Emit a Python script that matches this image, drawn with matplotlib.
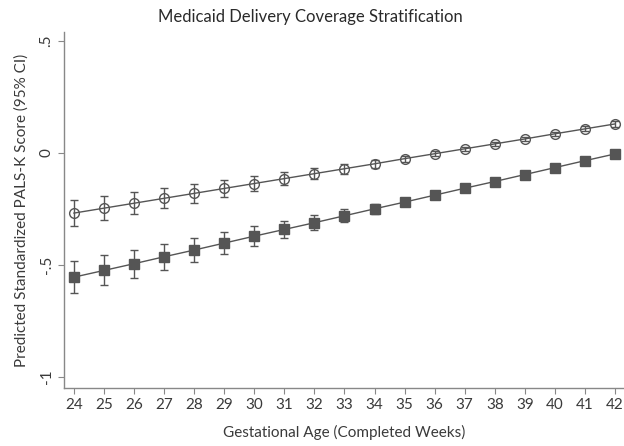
import matplotlib
matplotlib.use("Agg")
import matplotlib.pyplot as plt

weeks = [24, 25, 26, 27, 28, 29, 30, 31, 32, 33, 34, 35, 36, 37, 38, 39, 40, 41, 42]

# Open circles (upper series)
circ_mean = [-0.268, -0.246, -0.224, -0.202, -0.180, -0.158, -0.136, -0.114, -0.092,
             -0.070, -0.048, -0.025, -0.003, 0.019, 0.041, 0.063, 0.086, 0.108, 0.130]
circ_err = [0.058, 0.053, 0.050, 0.045, 0.042, 0.038, 0.034, 0.030, 0.026,
            0.022, 0.018, 0.014, 0.010, 0.008, 0.008, 0.009, 0.010, 0.011, 0.012]

# Filled squares (lower series)
sq_mean = [-0.554, -0.524, -0.494, -0.463, -0.433, -0.402, -0.371, -0.341, -0.311,
           -0.280, -0.249, -0.219, -0.188, -0.157, -0.127, -0.096, -0.065, -0.034, -0.004]
sq_err = [0.071, 0.067, 0.062, 0.059, 0.054, 0.048, 0.044, 0.038, 0.034,
          0.030, 0.022, 0.016, 0.012, 0.010, 0.009, 0.009, 0.010, 0.011, 0.012]

yticks = [-1, -0.5, 0, 0.5]
ytick_labels = ["-1", "-.5", "0", ".5"]

plt.rcParams['font.family'] = ['Lato', 'DejaVu Sans']

fig = plt.figure(figsize=(6.24, 4.46), dpi=100)
ax = fig.add_axes([0.1026, 0.13, 0.8974, 0.798])

col = '#555555'
ax.errorbar(weeks, circ_mean, yerr=circ_err, fmt='-o', color=col, mfc='none', mec=col,
            ms=7, mew=1.0, lw=1.0, ecolor=col, elinewidth=1.0, capsize=3, capthick=1.0, zorder=3)
ax.errorbar(weeks, sq_mean, yerr=sq_err, fmt='-s', color=col, mfc=col, mec=col,
            ms=7, mew=1.0, lw=1.0, ecolor=col, elinewidth=1.0, capsize=3, capthick=1.0, zorder=3)

ax.set_xlim(23.67, 42.3)
ax.set_ylim(-1.049, 0.54)
ax.set_xticks(weeks)
ax.set_xticklabels([str(w) for w in weeks])
ax.set_yticks(yticks)
ax.set_yticklabels(ytick_labels, rotation=90, va='center')

for s in ['top', 'right']:
    ax.spines[s].set_visible(False)
for s in ['left', 'bottom']:
    ax.spines[s].set_color('#888888')
    ax.spines[s].set_linewidth(1.0)
ax.tick_params(axis='both', direction='out', length=4, color='#888888', labelcolor='#3a3a3a',
               labelsize=11)

fig.text(0.497, 0.962, "Medicaid Delivery Coverage Stratification", fontsize=12,
         color='#2a2a2a', ha='center', va='center')
ax.set_xlabel("Gestational Age (Completed Weeks)", fontsize=11, color='#3a3a3a', labelpad=9)
ax.set_ylabel("Predicted Standardized PALS-K Score (95% CI)", fontsize=11, color='#3a3a3a', labelpad=8)

fig.savefig("out.png", dpi=100)
